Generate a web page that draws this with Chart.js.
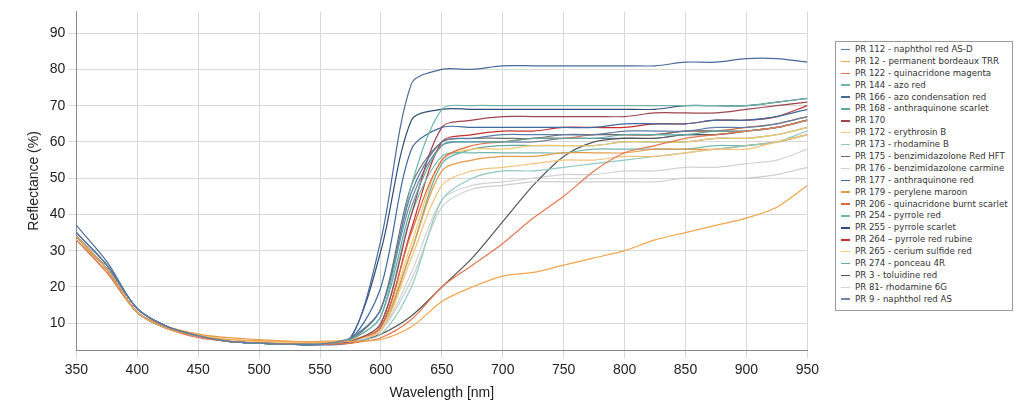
<!DOCTYPE html>
<html>
<head>
<meta charset="utf-8">
<script src="https://cdn.jsdelivr.net/npm/chart.js@4"></script>
<style>
  body { margin: 0; background: #fff; font-family: "DejaVu Sans", sans-serif; }
  #wrap { position: absolute; left: 0; top: 0; width: 822px; height: 406px; }
  #legend { position: absolute; left: 835px; top: 41px; width: 178px; height: 270px; border: 1px solid #999;
    font-size: 8.6px; color: #333; padding: 2px 0 0 3px; box-sizing: border-box; }
  #legend div { height: 11.9px; line-height: 11.9px; white-space: nowrap; }
  #legend span { display: inline-block; width: 9px; height: 1.5px; vertical-align: middle; margin: 0 5px 0 2px; }
</style>
</head>
<body>
<div id="wrap"><canvas id="c"></canvas></div>
<div id="legend"></div>
<script>
const wavelengths = [350,375,400,425,450,475,500,525,550,575,600,625,650,675,700,725,750,775,800,825,850,875,900,925,950];
const names = ['PR 112 - naphthol red AS-D','PR 12 - permanent bordeaux TRR','PR 122 - quinacridone magenta','PR 144 - azo red',
  'PR 166 - azo condensation red','PR 168 - anthraquinone scarlet','PR 170','PR 172 - erythrosin B','PR 173 - rhodamine B',
  'PR 175 - benzimidazolone Red HFT','PR 176 - benzimidazolone carmine','PR 177 - anthraquinone red','PR 179 - perylene maroon',
  'PR 206 - quinacridone burnt scarlet','PR 254 - pyrrole red','PR 255 - pyrrole scarlet','PR 264 \u2013 pyrrole red rubine',
  'PR 265 - cerium sulfide red','PR 274 - ponceau 4R','PR 3 - toluidine red','PR 81- rhodamine 6G','PR 9 - naphthol red AS'];
const colors = ['#5b7fa8','#f2a54a','#e8774e','#6db5a8','#4a6a9c','#5fa9a2','#9c4450','#f5c27a','#8fcac0','#6d6d6d',
  '#cfcfcf','#3f6aa0','#e59a45','#e06a3e','#72b8b0','#2f4f7a','#c83030','#f4c96a','#63aaa8','#555555','#d2d2d2','#6f86a8'];
const values = [
  [35,26,14,9,6.5,5,4.5,4.2,4.2,6,14,46,60,61,62,62,62,62,63,63,63,64,64,65,67],
  [34,25,13,8.5,6.5,5.5,5.2,5,4.8,5,5.5,9,16,20,23,24,26,28,30,33,35,37,39,42,48],
  [33,24,13,8.5,6,5,4.6,4.3,4.2,4.5,6,11,20,26,32,39,45,52,57,59,61,62,63,64,66],
  [34,25,13,8.5,6.5,5,4.5,4.2,4.2,5.5,12,48,69,70,70,70,70,70,70,70,70,70,70,71,72],
  [37,27,14,9,6.5,5,4.5,4.2,4,5.5,33,76,80,80,81,81,81,81,81,81,82,82,83,83,82],
  [34,25,13,8.5,6.5,5,4.5,4.3,4.3,5.5,12,42,59,60,60,61,61,61,62,62,62,63,63,64,66],
  [34,25,13,8.5,6.5,5,4.5,4.3,4.2,5,10,40,64,66,67,67,67,67,67,68,68,68,69,70,71],
  [33,24,13,8.5,6.5,5.5,5,4.8,4.8,5.5,8,28,48,52,53,54,55,55,56,56,57,58,58,60,62],
  [33,24,13,8.5,6.5,5,4.6,4.4,4.4,5,7,20,44,50,52,52,53,54,55,56,57,58,59,60,63],
  [35,26,14,9,6.5,5,4.5,4.2,4.2,5.5,14,48,60,61,61,61,62,62,62,62,63,63,63,64,66],
  [33,24,13,8.5,6.5,5,4.6,4.4,4.4,5,8,22,42,47,48,49,49,49,49,49,50,50,50,51,53],
  [34,25,13,8.5,6.5,5,4.5,4.2,4.2,5.5,20,58,64,64,64,64,64,64,65,65,65,66,66,67,69],
  [33,25,13,9,7,6,5.5,5,5,5.5,8,30,52,55,56,56,57,57,57,58,58,58,59,60,62],
  [34,25,13,8.5,6.5,5,4.5,4.3,4.3,5,9,35,55,59,60,61,61,62,62,62,63,63,64,65,67],
  [34,25,13,8.5,6.5,5,4.5,4.2,4.2,5,10,40,56,57,57,57,57,58,58,58,58,59,59,60,62],
  [35,26,14,9,6.5,5,4.5,4.2,4.2,6,30,66,69,69,69,69,69,69,69,69,70,70,70,71,72],
  [34,25,13,8.5,6.5,5,4.5,4.3,4.3,5,9,36,60,62,63,63,64,64,64,65,65,66,66,67,70],
  [33,25,13,9,7,5.5,5,4.8,4.8,5.5,9,32,55,58,58,59,59,59,60,60,60,61,61,62,64],
  [34,25,13,8.5,6.5,5,4.5,4.3,4.3,5,9,30,54,58,59,59,59,59,60,60,60,61,61,62,64],
  [34,25,13,8.5,6.5,5,4.5,4.3,4.2,4.5,7,12,20,28,38,48,56,60,61,61,62,62,63,64,66],
  [33,24,13,8.5,6.5,5,4.6,4.4,4.4,5,8,24,44,48,49,50,51,51,52,52,53,53,54,55,58],
  [35,26,14,9,6.5,5,4.5,4.2,4.2,5.5,14,44,59,60,60,60,61,61,61,61,62,62,63,64,66]
];

const datasets = names.map((n, i) => ({
  label: n,
  data: wavelengths.map((w, j) => ({ x: w, y: values[i][j] })),
  borderColor: colors[i], borderWidth: 1.2, pointRadius: 0, tension: 0.3, fill: false
}));

document.getElementById('legend').innerHTML = names.map((n, i) =>
  '<div><span style="background:' + colors[i] + '"></span>' + n + '</div>').join('');

new Chart(document.getElementById('c'), {
  type: 'line',
  data: { datasets },
  options: {
    responsive: true, maintainAspectRatio: false, animation: false,
    layout: { padding: { top: 2, right: 14, bottom: 0, left: 22 } },
    plugins: { legend: { display: false }, tooltip: { enabled: false } },
    scales: {
      x: {
        type: 'linear', min: 350, max: 950,
        ticks: { stepSize: 50, color: '#222', font: { size: 14 } },
        grid: { color: '#d8d8d8' }, border: { color: '#888' },
        title: { display: true, text: 'Wavelength [nm]', color: '#222', font: { size: 14 } }
      },
      y: {
        min: 2.5, max: 96,
        afterBuildTicks: a => { a.ticks = [10,20,30,40,50,60,70,80,90].map(v => ({ value: v })); },
        ticks: { color: '#222', font: { size: 14 } },
        grid: { color: '#d8d8d8' }, border: { color: '#888' },
        title: { display: true, text: 'Reflectance (%)', color: '#222', font: { size: 14 } }
      }
    }
  }
});
</script>
</body>
</html>
